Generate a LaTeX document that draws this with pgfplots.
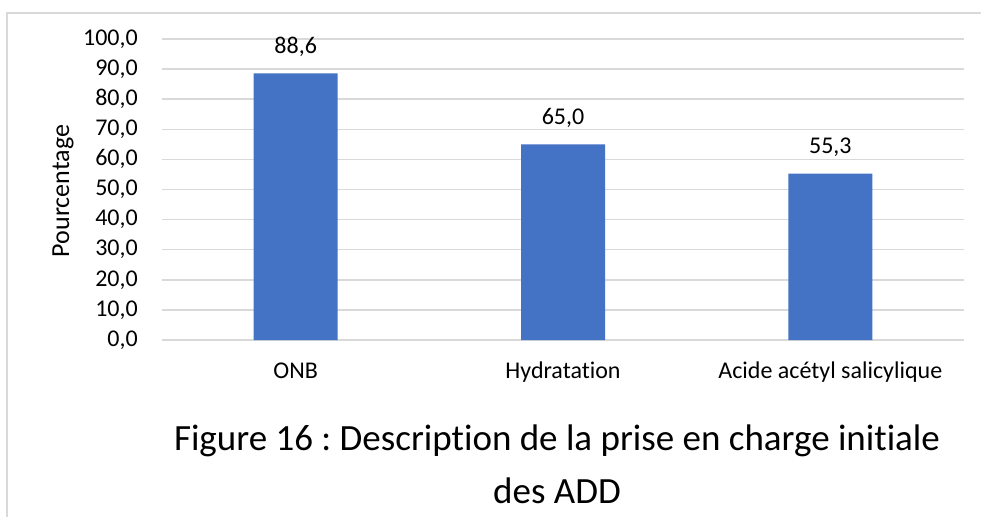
\documentclass[border=0pt]{standalone}
\usepackage{fontspec}
\setmainfont{Carlito}[Ligatures=NoCommon]
\usepackage{pgfplots}
\pgfplotsset{compat=1.18}
\definecolor{barblue}{HTML}{4472C4}
\definecolor{gridgray}{HTML}{D9D9D9}
\frenchspacing
\begin{document}
\begin{tikzpicture}[x=1pt,y=1pt]
\useasboundingbox (0,0) rectangle (981,-516);
\draw[gridgray, line width=1.5pt] (7,-13) rectangle (1000,-540);
\begin{axis}[
  at={(162pt,-340pt)}, anchor=south west,
  scale only axis, width=802pt, height=301pt,
  xmin=-0.5, xmax=2.5, ymin=0, ymax=100,
  ybar, bar width=84pt,
  xtick={0,1,2},
  xticklabels={ONB,Hydratation,Acide acétyl salicylique},
  ytick={0,10,20,30,40,50,60,70,80,90,100},
  ymajorgrids, grid style={gridgray, line width=1.5pt},
  axis line style={draw=none}, major tick length=0pt,
  tick label style={font=\fontsize{24}{29}\selectfont},
  /pgf/number format/.cd, fixed, fixed zerofill, precision=1, use comma, assume math mode=true,
  /pgfplots/.cd,
  yticklabel style={anchor=east, inner sep=0pt, xshift=-24pt},
  xticklabel style={anchor=base, inner sep=0pt, yshift=-38pt},
  nodes near coords,
  nodes near coords style={font=\fontsize{24}{29}\selectfont, anchor=base, yshift=20pt, text=black},
]
\addplot[fill=barblue, draw=none] coordinates {(0,88.6) (1,65.0) (2,55.3)};
\end{axis}
\node[rotate=90, font=\fontsize{26}{31}\selectfont] at (63,-191) {Pourcentage};
\node[anchor=base, font=\fontsize{37}{45}\selectfont] at (557,-450) {Figure 16 : Description de la prise en charge initiale};
\node[anchor=base, font=\fontsize{37}{45}\selectfont] at (557,-503) {des ADD};
\end{tikzpicture}
\end{document}
